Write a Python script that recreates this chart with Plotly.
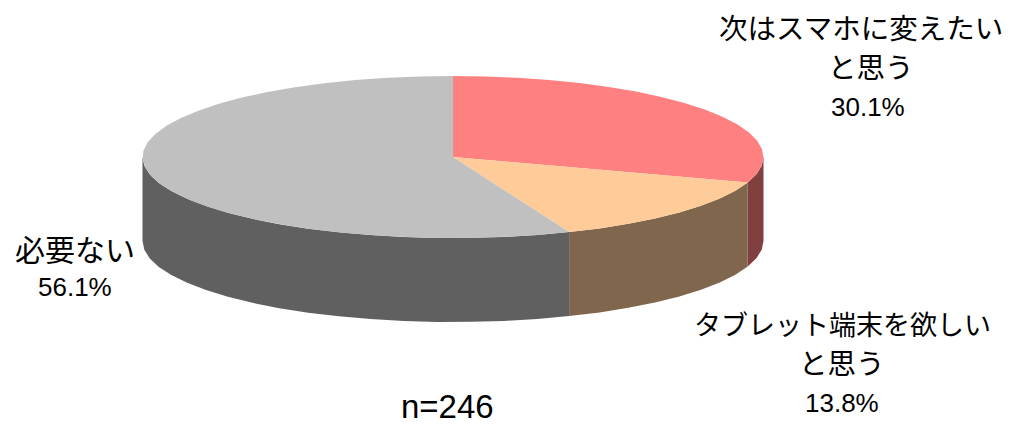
import numpy as np
import plotly.graph_objects as go

labels = ["次はスマホに変えたい<br>と思う", "タブレット端末を欲しい<br>と思う", "必要ない"]
label_lines = [["次はスマホに変えたい", "と思う"], ["タブレット端末を欲しい", "と思う"], ["必要ない"]]
values = [30.1, 13.8, 56.1]
pct_text = ["30.1%", "13.8%", "56.1%"]
n_text = "n=246"
top_colors = ["#ff8080", "#ffcc99", "#c0c0c0"]
side_colors = ["#804040", "#80664d", "#606060"]

CX, CY, RX, RY, DEPTH = 453.0, 157.0, 310.5, 81.0, 84.0
label_xy = [[(861, 26), (871, 65), (868, 107)],
            [(842, 323), (842, 361), (842, 403)],
            [(75, 248), (75, 287)]]
label_sizes = [[28.5, 28.5, 26], [27, 28.5, 26], [30, 26]]
STEP = 6.0


def ell(theta):
    t = np.radians(theta)
    return CX + RX * np.sin(t), CY - RY * np.cos(t)


def arc(a0, a1):
    n = max(int(abs(a1 - a0) / STEP), 1)
    return np.linspace(a0, a1, n + 1)


fig = go.Figure()
edges = np.concatenate([[0], np.cumsum(values)]) / sum(values) * 360

# side walls (only the front half, 90..270 degrees, is visible)
for i in range(len(values)):
    a0, a1 = max(edges[i], 90), min(edges[i + 1], 270)
    if a1 <= a0:
        continue
    th = arc(a0, a1)
    x, y = ell(th)
    fig.add_trace(go.Scatter(
        x=np.concatenate([x, x[::-1], x[:1]]),
        y=np.concatenate([y, y[::-1] + DEPTH, y[:1]]),
        fill="toself", fillcolor=side_colors[i], mode="lines",
        line=dict(width=0, color=side_colors[i]), hoverinfo="skip", showlegend=False))

# top faces
for i in range(len(values)):
    th = arc(edges[i], edges[i + 1])
    x, y = ell(th)
    fig.add_trace(go.Scatter(
        x=np.concatenate([[CX], x, [CX]]),
        y=np.concatenate([[CY], y, [CY]]),
        fill="toself", fillcolor=top_colors[i], mode="lines",
        line=dict(width=0, color=top_colors[i]), name=labels[i],
        hoverinfo="skip", showlegend=False))

FONT = "Noto Sans CJK JP, sans-serif"
for i in range(len(values)):
    texts = label_lines[i] + [pct_text[i]]
    for j, t in enumerate(texts):
        is_pct = j == len(texts) - 1
        px, yy = label_xy[i][j]
        fig.add_annotation(x=px, y=yy, text=t, showarrow=False, xanchor="center", yanchor="middle",
                           font=dict(family="Liberation Sans" if is_pct else FONT,
                                     size=label_sizes[i][j], color="#000000"))
fig.add_annotation(x=447, y=406.5, text=n_text, showarrow=False, xanchor="center", yanchor="middle",
                   font=dict(family="Liberation Sans", size=33, color="#000000"))

fig.update_layout(
    width=1024, height=425, margin=dict(l=0, r=0, t=0, b=0),
    paper_bgcolor="white", plot_bgcolor="white", showlegend=False,
    xaxis=dict(range=[0, 1024], visible=False, fixedrange=True),
    yaxis=dict(range=[425, 0], visible=False, fixedrange=True),
)
fig.write_html("out.html", config={"displayModeBar": False},
               post_script="document.body.style.margin='0';document.documentElement.style.overflow='hidden';")
